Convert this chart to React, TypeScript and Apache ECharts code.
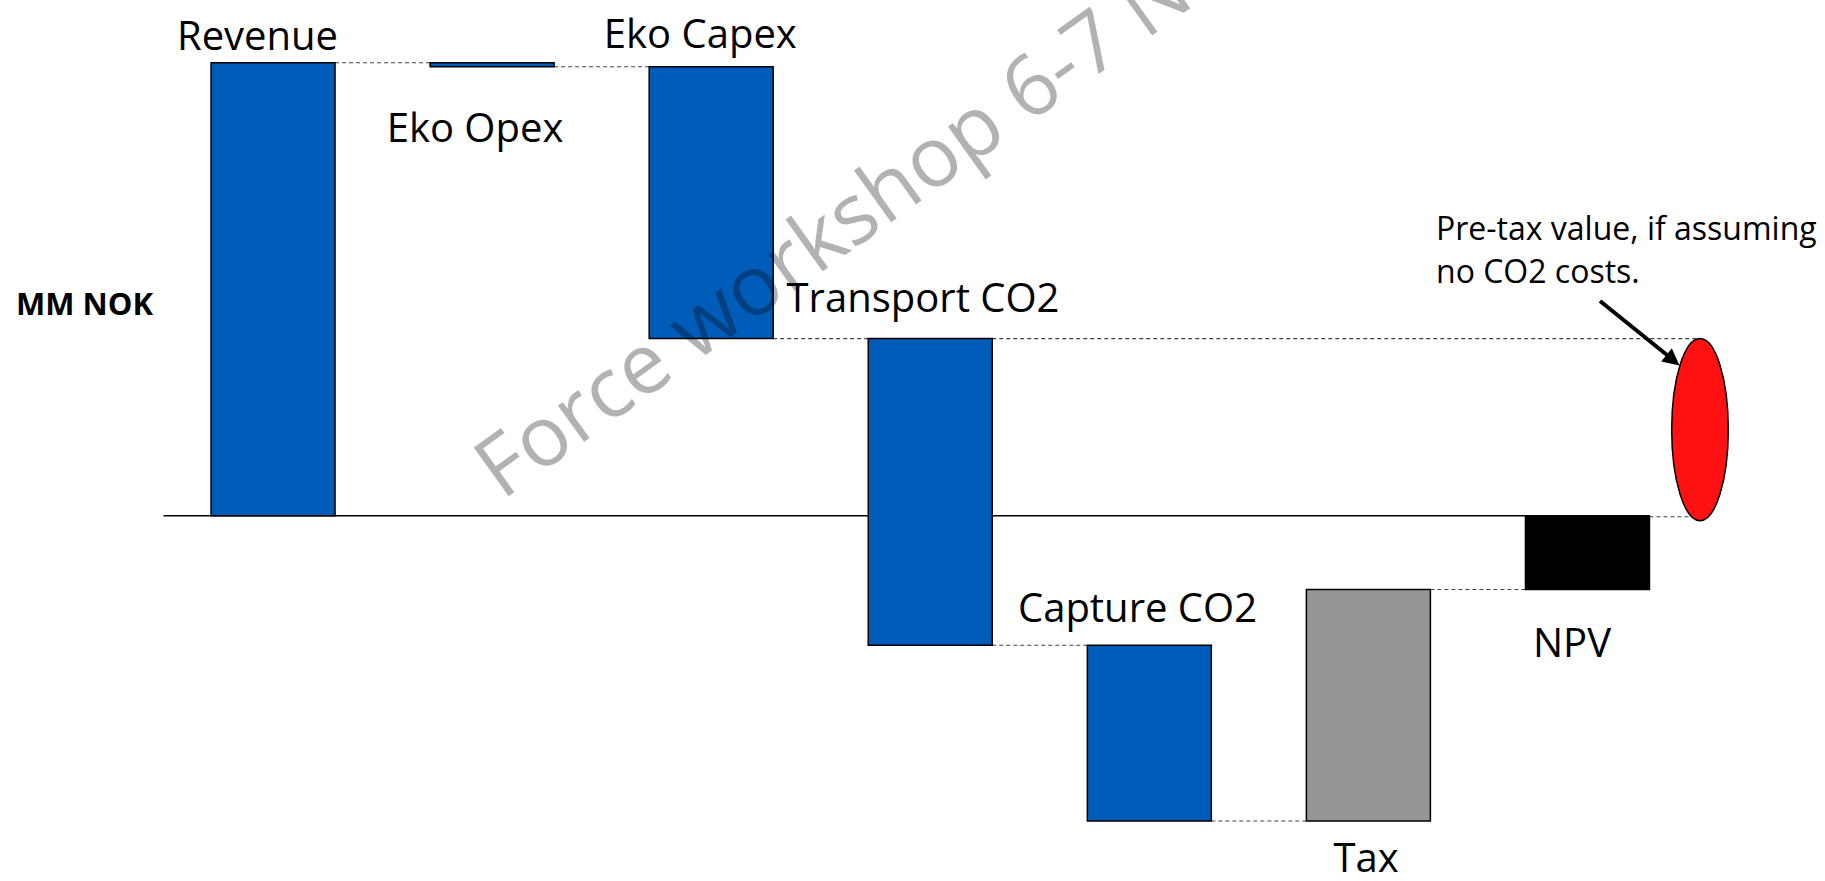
import React, { useEffect, useRef } from 'react';
import * as echarts from 'echarts';

// ---- data ----
const categories = ['Revenue', 'Eko Opex', 'Eko Capex', 'Transport CO2', 'Capture CO2', 'Tax', 'NPV'];
// changes for each step (MM NOK); NPV is the running total
const deltas = [100, -0.9, -60.0, -67.7, -38.8, 51.1];
const barColors = ['#005CB9', '#005CB9', '#005CB9', '#005CB9', '#005CB9', '#969696', '#000000'];
const yAxisName = 'MM NOK';
const annotationLines = ['Pre-tax value, if assuming', 'no CO2 costs.'];
const watermarkText = 'Force workshop 6-7 Nov';

// label positions (pixels) for the category captions
const labelPos: [number, number][] = [
  [257.5, 34.6],
  [475, 126.2],
  [700.3, 32.1],
  [923, 296.9],
  [1137.5, 606.9],
  [1366, 856],
  [1572, 641.2],
];

export default function App() {
  const ref = useRef<HTMLDivElement>(null);

  useEffect(() => {
    if (!ref.current) return;
    const chart = echarts.init(ref.current, undefined, { renderer: 'svg' });

    // build waterfall rows [index, start, end]
    const rows: number[][] = [];
    let cum = 0;
    deltas.forEach((d, i) => {
      rows.push([i, cum, cum + d]);
      cum += d;
    });
    rows.push([deltas.length, 0, cum]);
    const preTax = deltas[0] + deltas[1] + deltas[2];

    const BAR_W = 124;
    const FONT = '"Open Sans", sans-serif';
    const dash = { stroke: '#444', lineWidth: 1.1, lineDash: [4, 3] };
    const WM = 84;

    const option: any = {
      animation: false,
      grid: { left: 163.5, top: 17.4, width: 1533.5, height: 860.7, containLabel: false },
      xAxis: {
        type: 'category',
        data: categories,
        axisLine: { show: false },
        axisTick: { show: false },
        axisLabel: { show: false },
        splitLine: { show: false },
      },
      yAxis: {
        type: 'value',
        min: -80,
        max: 110,
        axisLine: { show: false },
        axisTick: { show: false },
        axisLabel: { show: false },
        splitLine: { show: false },
      },
      series: [
        {
          // zero line and dashed connectors
          type: 'custom',
          z: 1,
          silent: true,
          data: rows,
          renderItem: (params: any, api: any) => {
            const i = api.value(0);
            const end = api.value(2);
            const band = api.size([1, 0])[0];
            const cx = api.coord([i, 0])[0];
            const children: any[] = [];
            if (i === 0) {
              const z0 = api.coord([0, 0]);
              const last = api.coord([categories.length - 1, 0]);
              children.push({
                type: 'line',
                shape: { x1: z0[0] - band / 2, y1: z0[1], x2: last[0] + BAR_W / 2, y2: z0[1] },
                style: { stroke: '#000', lineWidth: 1.5 },
              });
            }
            if (i < categories.length - 1) {
              const y = api.coord([i, end])[1];
              children.push({
                type: 'line',
                shape: { x1: cx + BAR_W / 2, y1: y, x2: cx + band - BAR_W / 2, y2: y },
                style: dash,
              });
            }
            if (i === 3) {
              // pre-tax level continued to the ellipse
              const y = api.coord([i, preTax])[1];
              children.push({
                type: 'line',
                shape: { x1: cx + BAR_W / 2, y1: y, x2: api.coord([categories.length - 1, 0])[0] + band / 2 + 3, y2: y },
                style: dash,
              });
            }
            if (i === categories.length - 1) {
              const y = api.coord([i, 0])[1] + 1;
              children.push({
                type: 'line',
                shape: { x1: cx + BAR_W / 2, y1: y, x2: cx + band / 2 - 6, y2: y },
                style: dash,
              });
            }
            return { type: 'group', children };
          },
        },
        {
          // waterfall bars
          type: 'custom',
          z: 2,
          data: rows,
          renderItem: (params: any, api: any) => {
            const i = api.value(0);
            const a = api.coord([i, api.value(1)]);
            const b = api.coord([i, api.value(2)]);
            const y = Math.min(a[1], b[1]);
            const h = Math.max(Math.abs(a[1] - b[1]), 1);
            return {
              type: 'rect',
              shape: { x: a[0] - BAR_W / 2, y, width: BAR_W, height: h },
              style: { fill: barColors[i], stroke: '#000', lineWidth: 1.5 },
            };
          },
        },
        {
          // pre-tax value marker (red ellipse)
          type: 'custom',
          z: 3,
          data: [[categories.length - 1, preTax]],
          renderItem: (params: any, api: any) => {
            const band = api.size([1, 0])[0];
            const top = api.coord([api.value(0), api.value(1)]);
            const bottom = api.coord([api.value(0), 0]);
            const yb = bottom[1] + 5;
            return {
              type: 'ellipse',
              shape: { cx: top[0] + band / 2 + 3, cy: (top[1] + yb) / 2, rx: 28.3, ry: (yb - top[1]) / 2 },
              style: { fill: '#FF1111', stroke: '#000', lineWidth: 1.5 },
            };
          },
        },
      ],
      graphic: [
        ...categories.map((c, i) => ({
          type: 'text',
          x: labelPos[i][0],
          y: labelPos[i][1],
          style: {
            text: c,
            fill: '#000',
            font: `40px ${FONT}`,
            lineHeight: 30,
            textAlign: 'center',
            textVerticalAlign: 'middle',
          },
        })),
        {
          type: 'text',
          x: 84.5,
          y: 303.2,
          style: {
            text: yAxisName,
            fill: '#000',
            font: `bold 31px ${FONT}`,
            textAlign: 'center',
            textVerticalAlign: 'middle',
          },
        },
        ...annotationLines.map((t, k) => ({
          type: 'text',
          x: 1436,
          y: 227.5 + k * 43,
          style: {
            text: t,
            fill: '#000',
            font: `32px ${FONT}`,
            textAlign: 'left',
            textVerticalAlign: 'middle',
          },
        })),
        {
          type: 'line',
          shape: { x1: 1600, y1: 301, x2: 1667, y2: 355 },
          style: { stroke: '#000', lineWidth: 4 },
          z: 50,
        },
        {
          type: 'polygon',
          shape: { points: [[1679.5, 365.5], [1661.2, 361.5], [1671.8, 348.2]] },
          style: { fill: '#000' },
          z: 50,
        },
        {
          type: 'text',
          x: 497,
          y: 494,
          rotation: (35.6 * Math.PI) / 180,
          z: 100,
          silent: true,
          style: {
            text: watermarkText,
            x: 0,
            y: -0.285 * WM,
            fill: 'rgba(0,0,0,0.3)',
            font: `400 ${WM}px ${FONT}`,
            textAlign: 'left',
            textVerticalAlign: 'middle',
          },
        },
      ],
    };

    chart.setOption(option);
    return () => chart.dispose();
  }, []);

  return (
    <div
      ref={ref}
      style={{ position: 'fixed', left: 0, top: 0, width: 1825, height: 881, background: '#fff' }}
    />
  );
}
